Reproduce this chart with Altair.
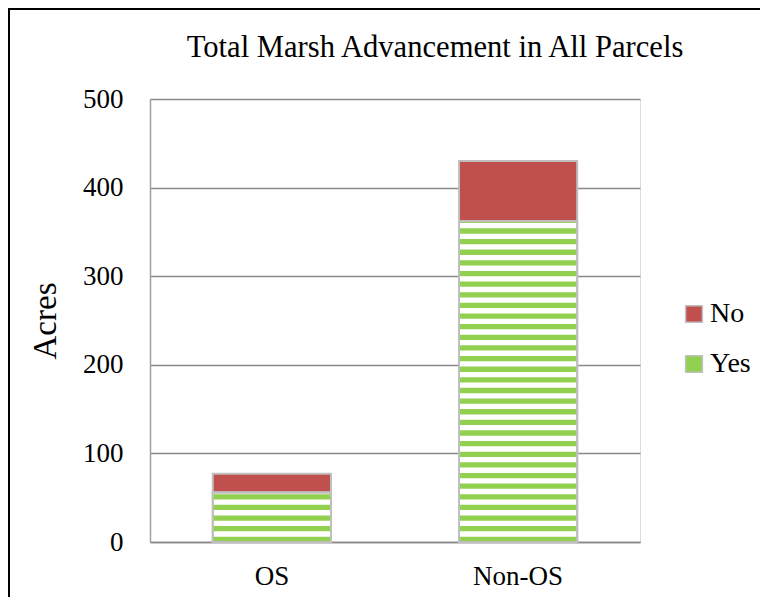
import altair as alt
import pandas as pd

categories = ["OS", "Non-OS"]
yes_values = [56, 362]
no_values = [21, 68]
stripe_step = 12
stripe_band = 6

FONT = "Liberation Serif"
RED = "#c0504d"
GREEN = "#92d050"
EDGE = "#bfbfbf"

rows = []
for c, y, n in zip(categories, yes_values, no_values):
    rows.append({"cat": c, "status": "Yes", "lo": 0, "hi": y})
    rows.append({"cat": c, "status": "No", "lo": y, "hi": y + n})
df = pd.DataFrame(rows)

stripes = []
for c, y in zip(categories, yes_values):
    k = 0
    while k * stripe_step < y:
        lo = k * stripe_step
        stripes.append({"cat": c, "lo": lo, "hi": min(lo + stripe_band, y)})
        k += 1
sdf = pd.DataFrame(stripes)

x_enc = alt.X("cat:N", sort=categories, title=None,
              scale=alt.Scale(paddingInner=0.52, paddingOuter=0.255),
              axis=alt.Axis(labelAngle=0, labelFont=FONT, labelFontSize=27,
                            labelColor="#000", labelPadding=21, ticks=False,
                            domainColor="#898989", domainWidth=1.5))
y_scale = alt.Scale(domain=[0, 500])
y_enc = alt.Y("lo:Q", scale=y_scale, title="Acres",
              axis=alt.Axis(values=[0, 100, 200, 300, 400, 500], labelFont=FONT,
                            labelFontSize=27, labelColor="#000", labelPadding=27,
                            ticks=False, gridColor="#898989", gridWidth=1.5,
                            domainColor="#a0a0a0", domainWidth=1.5,
                            titleFont=FONT, titleFontSize=33, titleFontWeight="normal",
                            titleColor="#000", titlePadding=20))

no_layer = alt.Chart(df).transform_filter(alt.datum.status == "No").mark_bar(
    fill=RED, stroke=EDGE, strokeWidth=2).encode(x=x_enc, y=y_enc, y2="hi:Q")

yes_layer = alt.Chart(df).transform_filter(alt.datum.status == "Yes").mark_bar(
    fill="#ffffff", stroke=EDGE, strokeWidth=2).encode(
    x=alt.X("cat:N", sort=categories), y=alt.Y("lo:Q", scale=y_scale), y2="hi:Q")

stripe_layer = alt.Chart(sdf).mark_bar(color=GREEN).encode(
    x=alt.X("cat:N", sort=categories),
    y=alt.Y("lo:Q", scale=y_scale),
    y2="hi:Q",
)

outline = alt.Chart(df).transform_filter(alt.datum.status == "Yes").mark_bar(
    fillOpacity=0, stroke=EDGE, strokeWidth=2).encode(
    x=alt.X("cat:N", sort=categories),
    y=alt.Y("lo:Q", scale=y_scale),
    y2="hi:Q",
)

legend_df = pd.DataFrame({"key": ["No", "Yes"]})
legend_layer = alt.Chart(legend_df).mark_square(size=0).encode(
    color=alt.Color("key:N", sort=["No", "Yes"],
                    scale=alt.Scale(domain=["No", "Yes"], range=[RED, GREEN]),
                    legend=alt.Legend(title=None, orient="none", legendX=530, legendY=201,
                                      symbolType="square", symbolSize=280,
                                      symbolStrokeColor=EDGE, symbolStrokeWidth=1.5,
                                      symbolOpacity=1,
                                      labelFont=FONT, labelFontSize=28, labelColor="#000",
                                      rowPadding=22, labelOffset=2)),
)

frame = alt.Chart(legend_df).mark_rect(fill=None, stroke="#000", strokeWidth=2).encode(
    x=alt.value(-141), x2=alt.value(712), y=alt.value(-90), y2=alt.value(700)
)

chart = alt.layer(frame, no_layer, yes_layer, stripe_layer, outline, legend_layer).properties(
    width=490, height=443,
    title=alt.Title("Total Marsh Advancement in All Parcels", font=FONT, fontSize=30.6,
                    fontWeight="normal", color="#000", offset=-56, anchor="middle", dx=40),
    autosize=alt.AutoSizeParams(type="none"),
    padding={"left": 142, "top": 91, "right": 120, "bottom": 55},
).configure_view(stroke=None).configure(background="white")

chart.save("out.html", embed_options={"renderer": "svg", "actions": False})
